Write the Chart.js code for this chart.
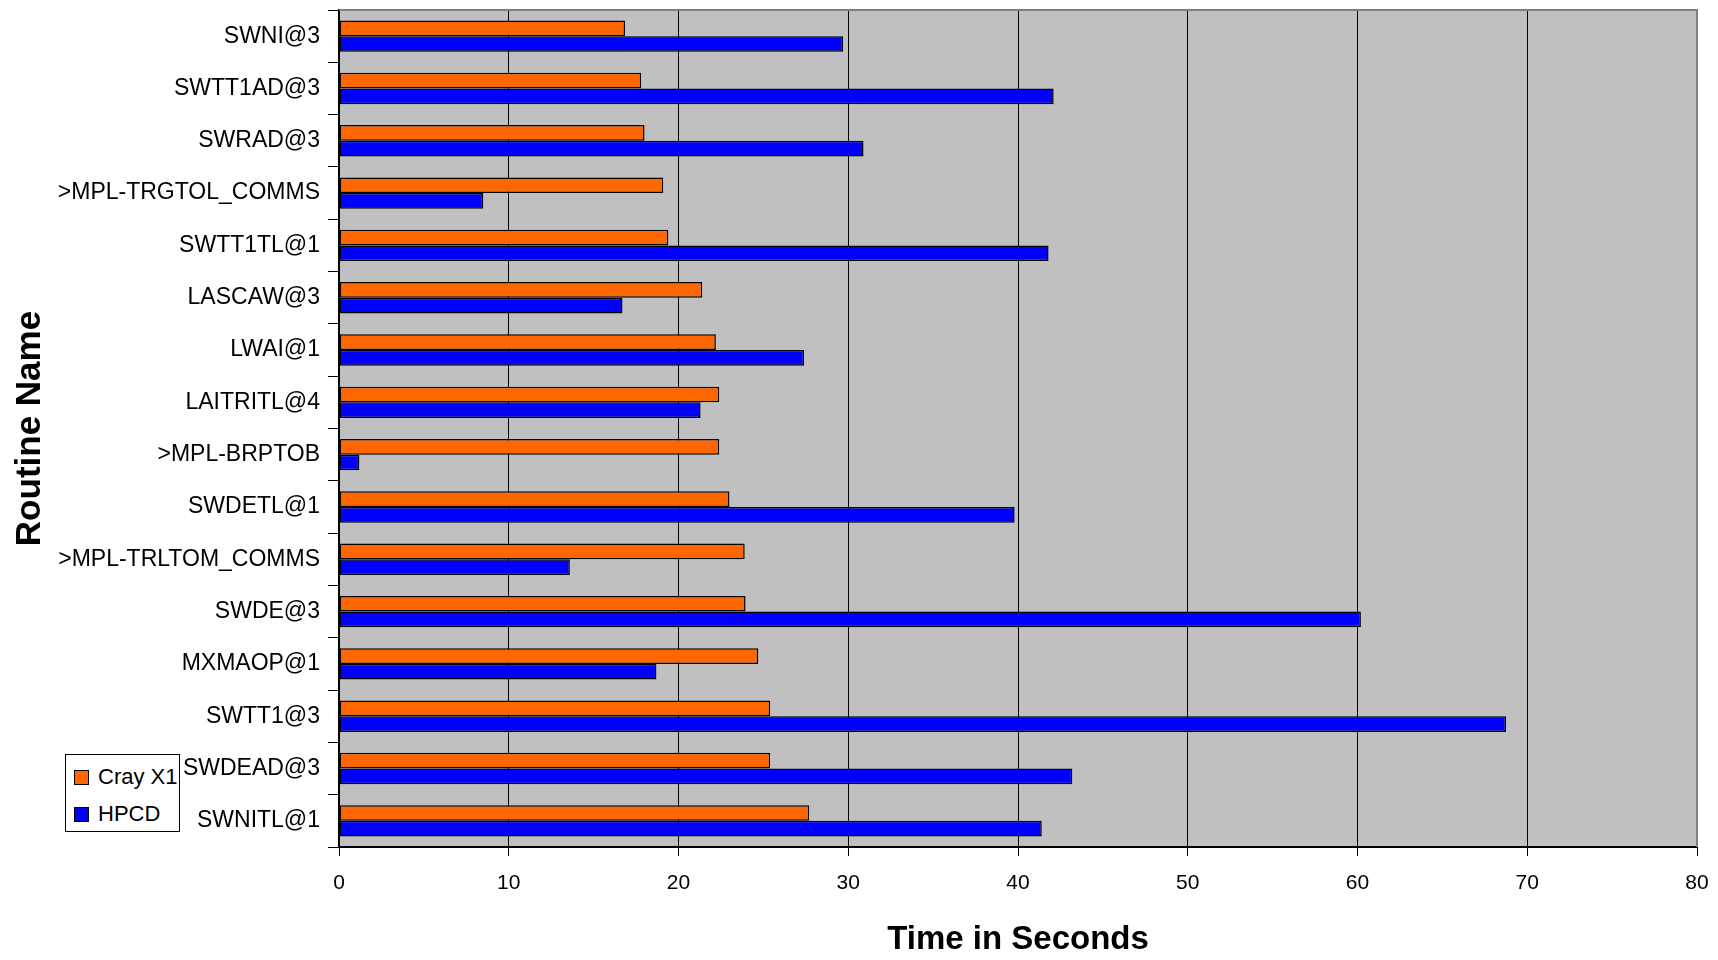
<!DOCTYPE html>
<html lang="en">
<head>
    <meta charset="UTF-8">
    <title>Routine Timings</title>
    <script src="https://cdn.jsdelivr.net/npm/chart.js"></script>
    <style>
        body { margin: 0; background: #fff; }
        #wrap { position: relative; width: 1718px; height: 960px; }
        #legend {
            position: absolute; left: 65px; top: 754px; width: 113px; height: 76px;
            border: 1px solid #000; background: #fff;
            font-family: "Liberation Sans", Arial, sans-serif; font-size: 22px; color: #000;
        }
        .item { position: absolute; left: 8px; height: 24px; line-height: 24px; white-space: nowrap; }
        .sw { display: inline-block; width: 13px; height: 13px; border: 1px solid #000; vertical-align: -1px; margin-right: 9px; }
    </style>
</head>
<body>
<div id="wrap">
    <canvas id="chart" width="1718" height="960"></canvas>
    <div id="legend">
        <div class="item" style="top:10px"><span class="sw" style="background:#ff6600"></span>Cray X1</div>
        <div class="item" style="top:47px"><span class="sw" style="background:#0000ff"></span>HPCD</div>
    </div>
</div>
<script>
    const routines = ['SWNI@3', 'SWTT1AD@3', 'SWRAD@3', '>MPL-TRGTOL_COMMS', 'SWTT1TL@1', 'LASCAW@3',
        'LWAI@1', 'LAITRITL@4', '>MPL-BRPTOB', 'SWDETL@1', '>MPL-TRLTOM_COMMS', 'SWDE@3',
        'MXMAOP@1', 'SWTT1@3', 'SWDEAD@3', 'SWNITL@1'];
    const crayX1 = [16.85, 17.8, 18.0, 19.1, 19.4, 21.4, 22.2, 22.4, 22.4, 23.0, 23.9, 23.95, 24.7, 25.4, 25.4, 27.7];
    const hpcd = [29.7, 42.1, 30.9, 8.5, 41.8, 16.7, 27.4, 21.3, 1.2, 39.8, 13.6, 60.2, 18.7, 68.75, 43.2, 41.4];
    const xTicks = [0, 10, 20, 30, 40, 50, 60, 70, 80];

    const font = "'Liberation Sans', Arial, sans-serif";

    // grey plot area + grey frame on top and right
    const plotArea = {
        id: 'plotArea',
        beforeDraw(chart) {
            const a = chart.chartArea, ctx = chart.ctx;
            ctx.save();
            ctx.fillStyle = '#c0c0c0';
            ctx.fillRect(a.left, a.top, a.right - a.left, a.bottom - a.top);
            ctx.restore();
        },
        afterDraw(chart) {
            const a = chart.chartArea, ctx = chart.ctx;
            ctx.save();
            ctx.strokeStyle = '#808080';
            ctx.lineWidth = 2;
            ctx.beginPath();
            ctx.moveTo(a.left, a.top);
            ctx.lineTo(a.right, a.top);
            ctx.lineTo(a.right, a.bottom);
            ctx.stroke();
            ctx.restore();
        }
    };

    new Chart(document.getElementById('chart'), {
        type: 'bar',
        data: {
            labels: routines,
            datasets: [
                { label: 'Cray X1', data: crayX1, backgroundColor: '#ff6600', borderColor: '#000', borderWidth: 1.5, borderSkipped: false },
                { label: 'HPCD', data: hpcd, backgroundColor: '#0000ff', borderColor: '#000', borderWidth: 1.5, borderSkipped: false }
            ]
        },
        options: {
            indexAxis: 'y',
            responsive: false,
            animation: false,
            layout: { padding: { top: 10, right: 21, bottom: 0, left: 0 } },
            datasets: { bar: { categoryPercentage: 0.6, barPercentage: 1.0 } },
            plugins: {
                legend: { display: false },
                tooltip: { enabled: false }
            },
            scales: {
                x: {
                    min: 0, max: 80,
                    afterBuildTicks(scale) { scale.ticks = xTicks.map(v => ({ value: v })); },
                    afterFit(scale) {
                        scale.height = 113;
                        scale.paddingLeft = 0;
                        scale.paddingRight = 0;
                    },
                    grid: { color: '#000', lineWidth: 1, tickLength: 9 },
                    border: { color: '#000', width: 2 },
                    ticks: { color: '#000', font: { family: font, size: 21 }, padding: 15 },
                    title: {
                        display: true, text: 'Time in Seconds', color: '#000',
                        font: { family: font, size: 33, weight: 'bold' }, padding: { top: 0, bottom: 0 }
                    }
                },
                y: {
                    afterFit(scale) {
                        scale.width = 339;
                        scale.paddingTop = 0;
                        scale.paddingBottom = 0;
                    },
                    grid: { drawOnChartArea: false, offset: true, color: '#000', tickLength: 11 },
                    border: { color: '#000', width: 2 },
                    ticks: { color: '#000', font: { family: font, size: 23 }, padding: 8, autoSkip: false },
                    title: {
                        display: true, text: 'Routine Name', color: '#000',
                        font: { family: font, size: 35, weight: 'bold' }, padding: { top: 9, bottom: 0 }
                    }
                }
            }
        },
        plugins: [plotArea]
    });
</script>
</body>
</html>
